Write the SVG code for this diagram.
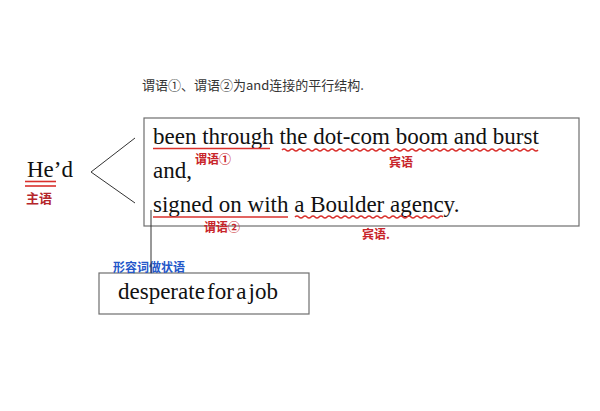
<svg xmlns="http://www.w3.org/2000/svg" width="600" height="411" viewBox="0 0 600 411">
<style>
.en{font-family:"Liberation Serif","Times New Roman",serif;font-size:23px;fill:#111}
.note{font-family:"Noto Sans CJK SC","Noto Sans",sans-serif;fill:#333;font-size:13px}
.red{font-family:"Noto Sans CJK SC",sans-serif;font-size:12px;font-weight:bold;fill:#c8242a}
.blue{font-family:"Noto Sans CJK SC",sans-serif;font-size:12px;font-weight:bold;fill:#2457c9}
.box{fill:none;stroke:#6e6e6e;stroke-width:1.2}
.ul{fill:none;stroke:#d9302c;stroke-width:1.6}
.ln{fill:none;stroke:#333;stroke-width:1}
</style>
<rect width="600" height="411" fill="#ffffff"/>
<g id="note">
<text class="note" x="142" y="90" textLength="222" lengthAdjust="spacingAndGlyphs">谓语①、谓语②为and连接的平行结构.</text>
</g>
<g id="subject">
<text class="en" x="27" y="177">He’d</text>
<line class="ul" x1="25" y1="181.5" x2="56" y2="181.5" stroke="#c8242a"/>
<line class="ul" x1="25" y1="186" x2="56" y2="186" stroke="#c8242a"/>
<text class="red" x="26" y="203" style="fill:#b5262b;font-size:13px">主语</text>
</g>
<g id="predicates">
<rect class="box" x="144" y="118" width="435" height="108"/>
<text class="en" x="153" y="144">been through the dot-com boom and burst</text>
<text class="en" x="153" y="178">and,</text>
<text class="en" x="153" y="212">signed on with a Boulder agency.</text>
<line class="ul" x1="153" y1="148.5" x2="270" y2="148.5"/>
<path class="ul" stroke-width="1.3" d="M282 150 q2 -2 4 0 t4 0 t4 0 t4 0 t4 0 t4 0 t4 0 t4 0 t4 0 t4 0 t4 0 t4 0 t4 0 t4 0 t4 0 t4 0 t4 0 t4 0 t4 0 t4 0 t4 0 t4 0 t4 0 t4 0 t4 0 t4 0 t4 0 t4 0 t4 0 t4 0 t4 0 t4 0 t4 0 t4 0 t4 0 t4 0 t4 0 t4 0 t4 0 t4 0 t4 0 t4 0 t4 0 t4 0 t4 0 t4 0 t4 0 t4 0 t4 0 t4 0 t4 0 t4 0 t4 0 t4 0 t4 0 t4 0 t4 0 t4 0 t4 0 t4 0 t4 0 t4 0 t4 0 t4 0"/>
<text class="red" x="195" y="164">谓语①</text>
<text class="red" x="389" y="167">宾语</text>
<line class="ul" x1="153" y1="217" x2="288" y2="217"/>
<path class="ul" stroke-width="1.3" d="M295 217 q2 -2 4 0 t4 0 t4 0 t4 0 t4 0 t4 0 t4 0 t4 0 t4 0 t4 0 t4 0 t4 0 t4 0 t4 0 t4 0 t4 0 t4 0 t4 0 t4 0 t4 0 t4 0 t4 0 t4 0 t4 0 t4 0 t4 0 t4 0 t4 0 t4 0 t4 0 t4 0 t4 0 t4 0 t4 0 t4 0 t4 0 t4 0"/>
<text class="red" x="204" y="232">谓语②</text>
<text class="red" x="362" y="239">宾语.</text>
</g>
<g id="adverbial">
<rect class="box" x="99" y="273" width="210" height="41"/>
<text class="en" x="118" y="299" word-spacing="-3.5">desperate for a job</text>
<text class="blue" x="113" y="272">形容词做状语</text>
</g>
<g id="connectors">
<polyline class="ln" points="135,138 91,172 135,203"/>
<line class="ln" x1="151" y1="210" x2="151" y2="273"/>
</g>
</svg>
